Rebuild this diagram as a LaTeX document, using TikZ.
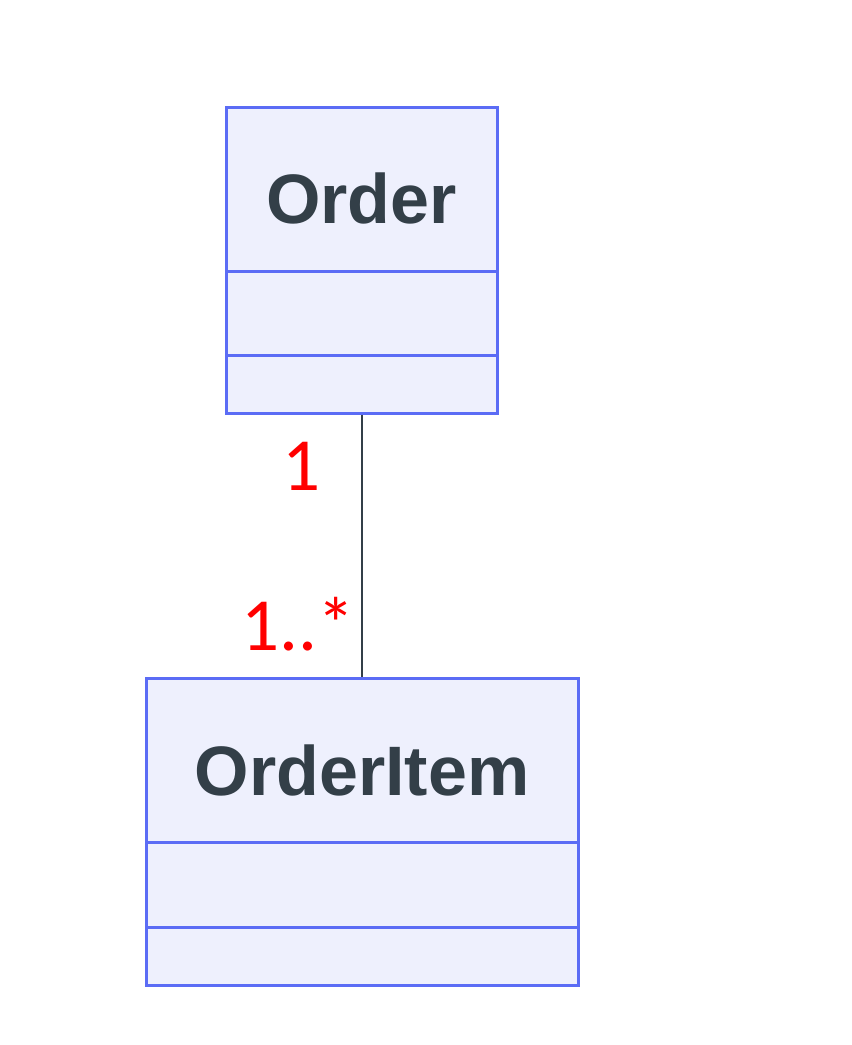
\documentclass[tikz,border=0pt]{standalone}
\usepackage{fontspec}
\setmainfont{Liberation Sans}
\newfontfamily\carl{Carlito}
\definecolor{boxfill}{HTML}{EEF0FD}
\definecolor{boxline}{HTML}{5B6CF5}
\definecolor{txt}{HTML}{333F48}
\begin{document}
\begin{tikzpicture}[x=1pt,y=-1pt,
  cls/.style={draw=boxline,fill=boxfill,line width=3pt},
  title/.style={font=\bfseries\fontsize{70}{70}\selectfont,text=txt},
  mult/.style={font=\carl\fontsize{75}{75}\selectfont,text=red}]
\useasboundingbox (0,0) rectangle (852,1045);
\draw[cls] (226,107) rectangle (497,413);
\draw[boxline,line width=3pt] (226,271) -- (497,271) (226,355) -- (497,355);
\node[title] (order) at (361.5,198) {Order};
\draw[cls] (146,678) rectangle (578,985);
\draw[boxline,line width=3pt] (146,842) -- (578,842) (146,927) -- (578,927);
\node[title] (item) at (362,770) {OrderItem};
\coordinate (a) at (362,414.5);
\coordinate (b) at (362,676.5);
\draw[txt,line width=2.5pt] (a) -- (b);
\node[mult] (m1) at (302,466) {1};
\node[mult] (m2) at (298,624) {1..*};
\end{tikzpicture}
\end{document}
